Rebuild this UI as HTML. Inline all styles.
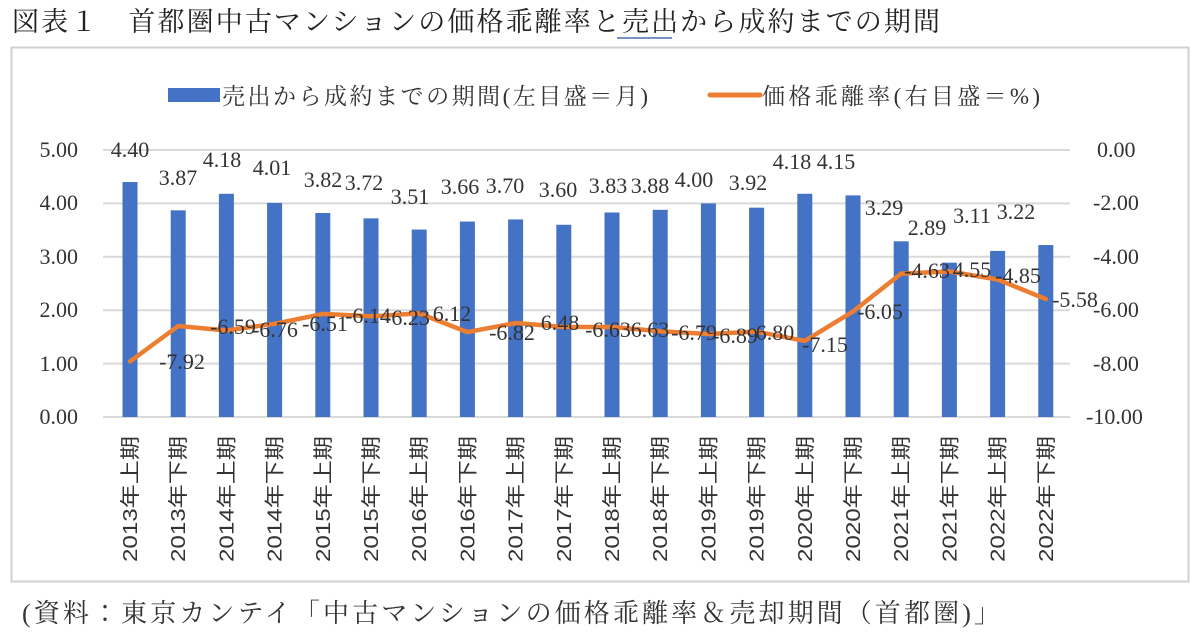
<!DOCTYPE html>
<html><head><meta charset="utf-8"><style>
html,body{margin:0;padding:0;background:#fff;width:1200px;height:635px;overflow:hidden}
svg text{font-family:"Liberation Serif","Noto Serif CJK JP",serif;fill:#333}
</style></head><body>
<svg width="1200" height="635" xmlns="http://www.w3.org/2000/svg">
<text x="12" y="31" font-size="27" textLength="928" lengthAdjust="spacing" style="fill:#222">図表１　首都圏中古マンションの価格乖離率と売出から成約までの期間</text>
<line x1="617" y1="38" x2="672" y2="38" stroke="#4b6fb5" stroke-width="1.5"/>
<rect x="11.5" y="47.5" width="1177" height="534" fill="#fff" stroke="#d0d0d0" stroke-width="2"/>
<rect x="168" y="88" width="52" height="14" fill="#4472c4"/>
<text x="222" y="104" font-size="23" textLength="426" lengthAdjust="spacing">売出から成約までの期間(左目盛＝月)</text>
<line x1="710" y1="95" x2="760" y2="95" stroke="#ed7d31" stroke-width="5" stroke-linecap="round"/>
<text x="762" y="104" font-size="23" textLength="278" lengthAdjust="spacing">価格乖離率(右目盛＝%)</text>
<g stroke="#d9d9d9" stroke-width="2">
<line x1="103" x2="1070" y1="150" y2="150"/><line x1="103" x2="1070" y1="203.4" y2="203.4"/>
<line x1="103" x2="1070" y1="256.8" y2="256.8"/><line x1="103" x2="1070" y1="310.2" y2="310.2"/>
<line x1="103" x2="1070" y1="363.6" y2="363.6"/><line x1="103" x2="1070" y1="417" y2="417"/>
</g>
<g font-size="22" text-anchor="end">
<text x="78" y="157">5.00</text><text x="78" y="210">4.00</text><text x="78" y="264">3.00</text>
<text x="78" y="317">2.00</text><text x="78" y="371">1.00</text><text x="78" y="424">0.00</text>
</g>
<g font-size="22" text-anchor="start">
<text x="1097" y="157">0.00</text><text x="1093" y="210">-2.00</text><text x="1093" y="264">-4.00</text>
<text x="1093" y="317">-6.00</text><text x="1093" y="371">-8.00</text><text x="1086" y="424">-10.00</text>
</g>
<g fill="#4472c4" id="bars"></g>
<polyline id="ln" fill="none" stroke="#ed7d31" stroke-width="4.5" stroke-linejoin="round" stroke-linecap="round"/>
<g id="bl" font-size="22" text-anchor="middle"></g>
<g id="ll" font-size="22" text-anchor="middle"></g>
<g id="xl" font-size="20"></g>
<text x="22" y="622" font-size="26" textLength="978" lengthAdjust="spacing">(資料：東京カンテイ「中古マンションの価格乖離率＆売却期間（首都圏)」</text>
</svg>
<script>
var b=[4.40,3.87,4.18,4.01,3.82,3.72,3.51,3.66,3.70,3.60,3.83,3.88,4.00,3.92,4.18,4.15,3.29,2.89,3.11,3.22];
var l=[-7.92,-6.59,-6.76,-6.51,-6.14,-6.23,-6.12,-6.82,-6.48,-6.63,-6.63,-6.79,-6.89,-6.80,-7.15,-6.05,-4.63,-4.55,-4.85,-5.58];
var bp=[[130,157],[178,185],[222,167],[272,175],[323,187],[364,190],[410,204],[460,194],[505,193],[558,197],[608,193],[650,193],[694,187],[748,190],[792,169],[836,169],[884,215],[927,235],[972,223],[1016,219]];
var lt=["-7.92","-6.59","-6.76","-6.51","-6.14","-6.23","6.12","-6.82","6.48","-6.63","6.63","-6.79","-6.89","6.80","-7.15","-6.05","-4.63","4.55","-4.85","-5.58"];
var lp=[[182,369],[233,334],[275,337],[325,331],[368,323],[407,325],[452,321],[512,340],[560,330],[608,337],[650,337],[694,340],[735,343],[775,340],[825,352],[880,319],[927,278],[972,277],[1018,283],[1075,307]];
var ns="http://www.w3.org/2000/svg",pts=[];
var labs=[];for(var y=2013;y<=2022;y++){labs.push(y+"年上期");labs.push(y+"年下期");}
function el(t,a,p,txt){var e=document.createElementNS(ns,t);for(var k in a)e.setAttribute(k,a[k]);if(txt)e.textContent=txt;document.getElementById(p).appendChild(e);return e;}
for(var i=0;i<20;i++){var x=130+i*48.2;var h=b[i]*53.4;
el("rect",{x:x-7.5,y:417-h,width:15,height:h},"bars");
pts.push(x+","+(150-l[i]*26.7).toFixed(1));
el("text",{x:bp[i][0],y:bp[i][1]},"bl",b[i].toFixed(2));
el("text",{x:lp[i][0],y:lp[i][1]},"ll",lt[i]);
el("text",{x:0,y:0,transform:"translate("+(x+7)+",436) rotate(-90)","text-anchor":"end",textLength:"126",lengthAdjust:"spacingAndGlyphs",style:"font-family:'Liberation Sans','Noto Sans CJK JP',sans-serif"},"xl",labs[i]);}
document.getElementById("ln").setAttribute("points",pts.join(" "));
</script>
</body></html>
